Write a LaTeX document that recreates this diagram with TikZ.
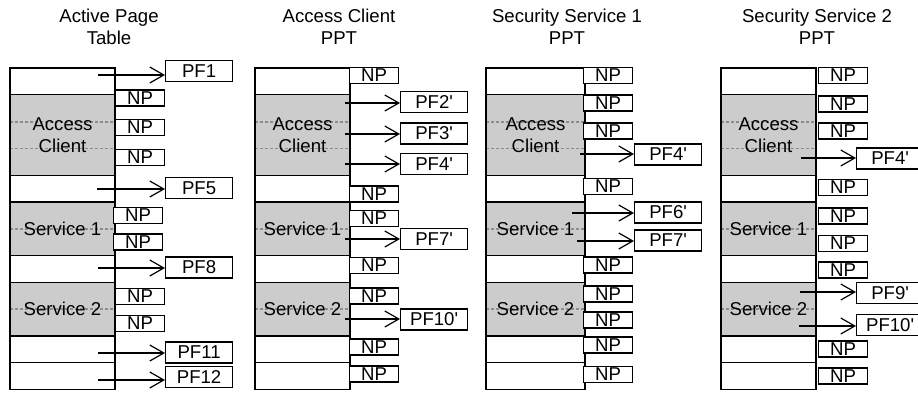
\documentclass[tikz,border=0pt]{standalone}
\usepackage{fontspec}
\setmainfont{Liberation Sans}
\usepackage{tikz}
\usetikzlibrary{arrows.meta}
\usetikzlibrary{calc}

\newcommand{\pq}{\textquotesingle}

\tikzset{
  tbl/.style={line width=0.6pt},
  blk/.style={fill=gray!40, draw=black, line width=0.6pt},
  sep/.style={gray!90, line width=0.9pt, dash pattern=on 1.5pt off 1pt},
  lbl/.style={align=center, inner sep=0pt},
  npbox/.style={draw, fill=white, line width=0.6pt, anchor=west, minimum width=24.5pt, minimum height=8pt, inner sep=0pt},
  pfbox/.style={draw, fill=white, line width=0.6pt, anchor=west, minimum width=33.5pt, minimum height=10.5pt, inner sep=0pt},
  ptr/.style={line width=0.6pt, -{Straight Barb[length=7pt,width=8pt,line width=0.6pt]}}
}

\begin{document}
\begin{tikzpicture}[x=0.5pt, y=-0.5pt, font=\fontsize{9.3}{11}\selectfont]
\useasboundingbox (0,0) rectangle (918,392);

\node[lbl] (t1) at (109,27) {Active Page\\Table};
\node[lbl] (t2) at (339,27) {Access Client\\PPT};
\node[lbl] (t3) at (567,27) {Security Service 1\\PPT};
\node[lbl] (t4) at (817,27) {Security Service 2\\PPT};

\foreach \xa/\xb/\i in {10/115/1,255/350/2,486/585/3,721/816/4}{
  \filldraw[blk] (\xa,94.8) rectangle (\xb,175.2);
  \filldraw[blk] (\xa,202) rectangle (\xb,255.6);
  \filldraw[blk] (\xa,282.4) rectangle (\xb,336);
  \foreach \y in {121.6,148.4,228.8,309.2}
    \draw[sep] (\xa,\y) -- (\xb,\y);
  \draw[tbl] (\xa,68) rectangle (\xb,389.6);
  \draw[tbl] (\xa,362.8) -- (\xb,362.8);
  \node[lbl] (ac\i) at ({(\xa+\xb)/2},135) {Access\\Client};
  \node[lbl] (sa\i) at ({(\xa+\xb)/2},228.8) {Service 1};
  \node[lbl] (sb\i) at ({(\xa+\xb)/2},309.2) {Service 2};
}

\foreach \k/\x/\y in {2/115/98,3/115/127.5,4/115/157.5,6/113/215.5,7/113/242,9/115/296.5,10/115/323.5}
  \node[npbox] (npa\k) at (\x,\y) {NP};
\foreach \k/\y in {1/75.5,5/194,6/218.5,8/265.5,9/296,11/347,12/374}
  \node[npbox] (npb\k) at (349,\y) {NP};
\foreach \k/\y in {1/75.5,2/103,3/131,5/186.5,8/265,9/294,10/320,11/345,12/374.5}
  \node[npbox] (npc\k) at (583,\y) {NP};
\foreach \k/\y in {1/75.5,2/104,3/131,5/187.5,6/216,7/243.5,8/270,11/349,12/376}
  \node[npbox] (npd\k) at (818,\y) {NP};

\node[pfbox] (pfa1) at (165,71) {PF1};
\node[pfbox] (pfa5) at (165,188) {PF5};
\node[pfbox] (pfa8) at (165,267.5) {PF8};
\node[pfbox] (pfa11) at (165,352.5) {PF11};
\node[pfbox] (pfa12) at (165,377) {PF12};

\node[pfbox] (pfb2) at (400,102) {PF2\pq};
\node[pfbox] (pfb3) at (400,133.5) {PF3\pq};
\node[pfbox] (pfb4) at (400,164) {PF4\pq};
\node[pfbox] (pfb7) at (400,239) {PF7\pq};
\node[pfbox] (pfb10) at (400,319.5) {PF10\pq};

\node[pfbox] (pfc4) at (634,154.5) {PF4\pq};
\node[pfbox] (pfc6) at (634,212.5) {PF6\pq};
\node[pfbox] (pfc7) at (634,240.5) {PF7\pq};

\node[pfbox] (pfd4) at (856,158.5) {PF4\pq};
\node[pfbox] (pfd9) at (856,293) {PF9\pq};
\node[pfbox] (pfd10) at (856,325) {PF10\pq};

\coordinate (sa1) at (98,75);
\coordinate (sa5) at (97,189);
\coordinate (sa8) at (98,268);
\coordinate (sa11) at (98,353);
\coordinate (sa12) at (98,380);
\coordinate (sb2) at (345,103);
\coordinate (sb3) at (345,134);
\coordinate (sb4) at (345,164);
\coordinate (sb7) at (345,239);
\coordinate (sb10) at (345,319);
\coordinate (sc4) at (580,154);
\coordinate (sc6) at (572,213);
\coordinate (sc7) at (577,241);
\coordinate (sd4) at (801,158);
\coordinate (sd9) at (800,292);
\coordinate (sd10) at (799,326);

\foreach \s/\b in {sa1/pfa1,sa5/pfa5,sa8/pfa8,sa11/pfa11,sa12/pfa12,sb2/pfb2,sb3/pfb3,sb4/pfb4,sb7/pfb7,sb10/pfb10,sc4/pfc4,sc6/pfc6,sc7/pfc7,sd4/pfd4,sd9/pfd9,sd10/pfd10}
  \draw[ptr] (\s) -- (\s -| \b.west);

\end{tikzpicture}
\end{document}
